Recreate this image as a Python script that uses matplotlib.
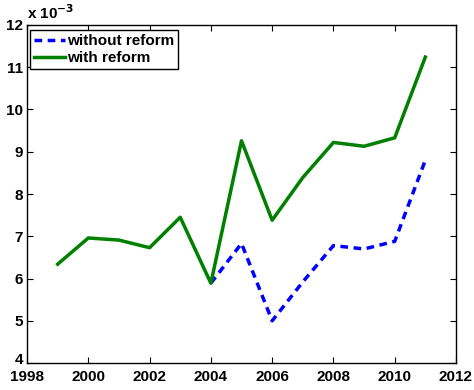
import matplotlib
matplotlib.use("Agg")
import matplotlib.pyplot as plt
import matplotlib.transforms as mtransforms

# values in units of 1e-3
years = [1999, 2000, 2001, 2002, 2003, 2004, 2005, 2006, 2007, 2008, 2009, 2010, 2011]
with_reform = [6.34, 6.96, 6.91, 6.73, 7.45, 5.89, 9.26, 7.38, 8.39, 9.22, 9.13, 9.33, 11.24]
years_without = [2004, 2005, 2006, 2007, 2008, 2009, 2010, 2011]
without_reform = [5.89, 6.83, 5.00, 5.92, 6.78, 6.70, 6.88, 8.80]

xticks = list(range(1998, 2013, 2))
yticks = list(range(4, 13))

plt.rcParams['font.family'] = ['Liberation Sans', 'DejaVu Sans']
plt.rcParams['font.weight'] = 'bold'

fig = plt.figure(figsize=(4.74, 3.9), dpi=100)
ax = fig.add_axes([0.057, 0.069, 0.905, 0.867])

ax.plot(years_without, without_reform, color=(0, 0, 1), linestyle=(0, (2.2, 1.6)),
        linewidth=2.5, label='without reform')
ax.plot(years, with_reform, color=(0, 0.5, 0), linewidth=2.5, label='with reform')

ax.set_xlim(1998, 2012)
ax.set_ylim(4, 12)
ax.set_xticks(xticks)
ax.set_yticks(yticks)
ax.tick_params(direction='in', top=True, right=True, labelsize=11, length=4,
               width=0.8)
ax.tick_params(axis='y', pad=3)
ax.tick_params(axis='x', pad=5)
for lab in ax.get_xticklabels() + ax.get_yticklabels():
    lab.set_fontweight('bold')
for s in ax.spines.values():
    s.set_linewidth(1.0)

# lift the lowest y label a little so it clears "1998"
fig.canvas.draw()
ylabs = ax.get_yticklabels()
ylabs[0].set_transform(ylabs[0].get_transform() +
                       mtransforms.ScaledTranslation(0, 3 / 72, fig.dpi_scale_trans))

ax.text(0.0, 1.01, r'x 10$^{\mathbf{-3}}$', transform=ax.transAxes, fontsize=11,
        fontweight='bold', ha='left', va='bottom')

leg = ax.legend(loc='upper left', bbox_to_anchor=(0.008, 0.985), fancybox=False,
                edgecolor='black', framealpha=1, handlelength=2.0, handletextpad=0.15,
                borderpad=0.25, labelspacing=0.2, borderaxespad=0.0,
                prop={'weight': 'bold', 'size': 11})
leg.get_frame().set_linewidth(1.0)

fig.savefig('out.png', dpi=100)
